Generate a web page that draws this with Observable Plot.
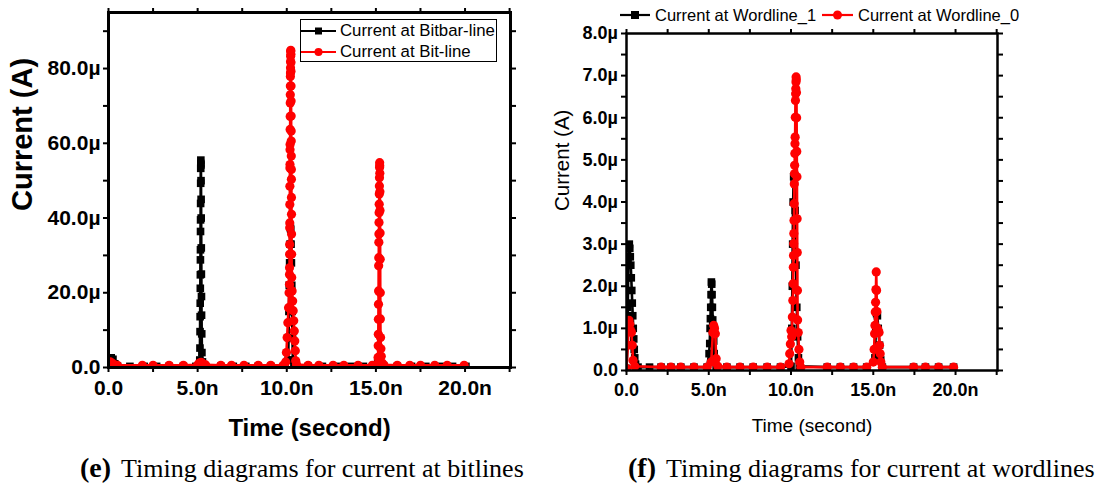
<!DOCTYPE html>
<html><head><meta charset="utf-8">
<script src="https://cdn.jsdelivr.net/npm/d3@7"></script>
<script src="https://cdn.jsdelivr.net/npm/@observablehq/plot@0.6"></script>
<style>
body{margin:0;background:#fff;}
#wrap{position:relative;width:1102px;height:485px;overflow:hidden;background:#fff;font-family:"Liberation Sans",Arial,sans-serif;}
.panel{position:absolute;top:0;}
.cap{position:absolute;font-family:"Liberation Serif","Times New Roman",serif;font-size:26px;white-space:nowrap;line-height:26px;}
.cap b{font-size:28px;margin-right:10px;}
.item{position:absolute;height:20px;display:flex;align-items:center;white-space:nowrap;color:#000;}
.item svg{display:block;}
#legL{position:absolute;left:300px;top:19px;width:195px;height:41px;border:1.5px solid #000;}
</style></head><body><div id="wrap"></div>
<script>
// ---------- data (time in ns, current in µA) ----------
const xTicks = [0, 2.5, 5, 7.5, 10, 12.5, 15, 17.5, 20, 22.5];
const xLabelTicks = [0, 5, 10, 15, 20];
const yTicksL = [0, 10, 20, 30, 40, 50, 60, 70, 80, 90];
const yLabelTicksL = [0, 20, 40, 60, 80];
const yTicksR = [0, 0.5, 1, 1.5, 2, 2.5, 3, 3.5, 4, 4.5, 5, 5.5, 6, 6.5, 7, 7.5, 8];
const yLabelTicksR = [0, 1, 2, 3, 4, 5, 6, 7, 8];

const namesL = ["Current at Bitbar-line", "Current at Bit-line"];
const namesR = ["Current at Wordline_1", "Current at Wordline_0"];
const colors = ["#000000", "#ff0000"];
const symbols = ["square", "circle"];

// Left: bitbar-line (black)
const tBitbar = [0.00,0.08,0.15,0.25,0.35,0.5,1.2,2.0,2.7,3.4,4.2,4.9,
  5.10,5.12,5.13,5.135,5.14,5.145,5.15,5.153,5.156,5.159,5.162,5.165,5.168,5.171,5.174,5.177,5.18,
  5.185,5.19,5.195,5.20,5.205,5.21,5.215,5.22,5.23,5.24,5.27,5.4,
  6.3,7.0,7.7,8.4,9.1,9.9,
  10.08,10.10,10.12,10.14,10.16,10.18,10.20,10.22,10.24,10.26,10.28,10.30,10.32,10.34,10.4,
  11.2,12.0,12.8,13.6,14.3,15.0,15.1,15.2,15.3,15.45,16.2,17.0,17.8,18.6,19.3,20.05];
const iBitbar = [0.3,2.4,2.6,2.2,1.0,0.4,0.3,0.3,0.3,0.3,0.3,0.3,
  0.8,2.0,5.2,9.6,13.6,17.2,21.2,24.8,28.8,31.5,36.4,39.5,43.9,49.3,53.3,54.6,55.5,
  54.2,50.0,45.0,40.0,32.0,25.0,19.0,14.0,9.0,4.0,1.5,0.4,
  0.3,0.3,0.3,0.3,0.3,0.3,
  2.0,8.0,15.0,22.0,28.0,33.0,37.4,37.0,33.0,28.0,22.0,15.0,8.0,2.0,0.4,
  0.3,0.3,0.3,0.3,0.3,0.3,1.2,1.5,0.8,0.3,0.3,0.3,0.3,0.3,0.3,0.3];

// Left: bit-line (red)
const tBitline = [0.0,0.1,0.2,0.35,0.5,1.9,2.5,3.4,4.2,5.0,5.1,5.2,5.3,5.45,6.3,6.9,7.6,8.4,9.1,9.8,
  9.94,9.98,10.02,10.06,10.10,10.13,
  10.150,10.153,10.156,10.159,10.162,10.165,10.168,10.171,10.174,10.177,10.180,10.183,10.186,10.189,10.192,10.195,10.198,10.201,10.204,10.207,10.210,10.213,10.216,10.219,
  10.225,
  10.230,10.233,10.236,10.239,10.242,10.245,10.248,10.251,10.254,10.257,10.260,10.263,10.266,10.269,10.272,10.275,
  10.30,10.33,10.36,10.39,10.42,10.45,10.48,10.50,10.55,
  11.2,11.8,12.6,13.2,14.0,14.8,
  15.10,15.12,15.13,15.135,15.14,15.145,15.15,15.155,15.16,15.165,15.17,15.175,15.18,15.185,15.19,15.195,15.20,15.205,15.21,
  15.215,15.22,15.225,15.23,15.235,15.24,15.245,15.25,15.26,15.28,15.30,15.35,15.45,
  16.2,16.9,17.5,18.3,19.0,19.95];
const iBitline = [0.4,1.5,1.2,0.7,0.6,0.6,0.6,0.6,0.6,0.7,1.2,1.4,1.0,0.7,0.6,0.6,0.6,0.6,0.6,0.6,
  1.5,4.0,8.0,12.0,16.0,20.0,
  22.2,24.9,26.7,30.3,32.9,37.4,38.7,43.6,48.5,53.4,54.3,58.3,59.7,63.7,67.2,70.8,73.0,75.3,77.9,78.8,80.2,81.9,83.3,84.6,
  84.9,
  83.8,81.6,79.3,75.3,71.3,67.3,63.3,60.6,56.6,53.0,50.4,45.5,41.0,35.7,30.3,24.1,
  20.5,17.8,15.2,12.5,9.8,7.1,4.5,1.8,0.8,
  0.6,0.6,0.6,0.6,0.6,0.6,
  1.0,2.7,5.8,8.9,12.9,16.9,20.5,27.2,29.4,33.5,35.7,38.8,41.4,43.7,46.4,48.6,50.8,53.5,54.8,
  54.0,52.0,47.0,42.0,36.0,29.0,20.0,13.0,8.0,5.0,3.0,1.2,0.7,
  0.6,0.6,0.6,0.6,0.6,0.6];

// Right: wordline_1 (black)
const tWord1 = [0.0,0.05,0.07,0.08,0.1,0.12,0.14,0.17,0.2,0.23,0.26,0.29,0.32,0.35,0.38,0.41,0.44,0.47,0.5,0.55,0.7,1.4,2.1,2.7,3.3,4.1,4.9,
  5.02,5.06,5.08,5.10,5.12,5.14,5.16,5.18,5.20,5.22,5.24,5.27,5.30,5.33,5.37,5.45,6.1,6.9,7.7,8.55,9.36,
  10.0,10.05,10.08,10.10,10.13,10.16,10.20,10.25,10.30,10.35,10.40,10.45,10.5,12.2,13.0,13.8,14.6,
  15.1,15.15,15.2,15.25,15.3,15.38,15.45,15.55,17.45,18.17,18.97,19.88];
const iWord1 = [0.05,0.6,1.1,1.5,2.2,2.7,2.95,3.0,2.9,2.7,2.5,2.2,1.9,1.6,1.3,1.0,0.75,0.5,0.3,0.15,0.08,0.08,0.08,0.08,0.08,0.08,0.08,
  0.4,0.64,1.0,1.23,1.5,1.8,2.1,2.05,1.8,1.5,1.2,1.0,0.7,0.4,0.2,0.08,0.08,0.08,0.08,0.08,0.08,
  0.1,1.0,2.0,3.0,4.0,4.6,4.5,3.8,2.5,1.5,0.8,0.3,0.1,0.08,0.08,0.08,0.08,
  0.3,0.9,1.35,1.3,1.0,0.6,0.25,0.08,0.08,0.08,0.08,0.08];

// Right: wordline_0 (red)
const tWord0 = [0.0,0.08,0.12,0.15,0.2,0.25,0.3,0.35,0.4,0.5,2.1,2.7,3.3,4.1,4.9,
  5.15,5.25,5.30,5.35,5.40,5.45,5.55,6.1,6.9,7.7,8.55,9.36,
  9.88,9.92,9.96,10.0,10.04,10.08,10.11,10.13,10.14,10.15,10.16,10.17,10.18,10.19,10.20,10.21,10.22,10.23,10.24,10.25,10.26,10.27,10.28,10.29,10.30,10.31,10.32,10.33,10.34,10.35,10.36,10.37,10.38,10.39,10.40,10.44,10.48,10.53,10.6,
  12.2,13.0,13.8,14.6,
  15.0,15.05,15.08,15.10,15.12,15.14,15.16,15.18,15.20,15.22,15.25,15.30,15.35,15.38,15.42,15.46,15.55,
  17.45,18.17,18.97,19.88];
const iWord0 = [0.05,0.6,1.0,1.19,1.1,0.95,0.9,0.6,0.24,0.1,0.08,0.08,0.08,0.08,0.08,
  0.2,0.9,1.07,1.0,0.87,0.28,0.1,0.08,0.08,0.08,0.08,0.08,
  0.16,0.4,0.63,0.95,0.8,1.27,1.66,2.06,2.45,2.73,3.01,3.25,3.56,3.96,4.43,4.67,4.87,5.15,5.38,5.54,6.01,6.41,6.57,6.69,6.85,6.97,6.9,6.6,6.0,5.2,4.6,3.6,2.8,1.9,1.2,0.9,0.5,0.2,0.08,
  0.08,0.08,0.08,0.08,
  0.2,0.5,0.87,1.07,1.39,1.62,1.92,2.34,1.9,1.4,1.0,0.95,0.9,0.6,0.4,0.2,0.08,
  0.08,0.08,0.08,0.08];

// ---------- drawing ----------
const rows = (t, v) => t.map((d, i) => ({t: d, v: v[i]}));
const fmtX = d => d === 0 ? "0.0" : d.toFixed(1) + "n";
const fmtY = d => d === 0 ? "0.0" : d.toFixed(1) + "\u00b5";

function panel(o) {
  const marks = [];
  o.series.forEach((s, k) => {
    const data = rows(s.t, s.v);
    marks.push(Plot.line(data, {x: "t", y: "v", stroke: colors[k], strokeWidth: o.lw, clip: true}));
    marks.push(Plot.dot(data, {x: "t", y: "v", fill: colors[k], stroke: "none", symbol: symbols[k], r: o.r[k], clip: true}));
  });
  const tk = {stroke: "#000", strokeWidth: 2, tickSize: 5, label: null};
  marks.push(
    Plot.axisX({...tk, anchor: "bottom", ticks: xTicks, tickPadding: o.xPad, tickFormat: d => xLabelTicks.includes(d) ? fmtX(d) : "", fontSize: o.fs, fontWeight: "bold"}),
    Plot.axisX({...tk, anchor: "top", ticks: xTicks, tickFormat: () => ""}),
    Plot.axisY({...tk, anchor: "left", ticks: o.yTicks, tickPadding: o.yPad, tickFormat: d => o.yLabelTicks.includes(d) ? fmtY(d) : "", fontSize: o.fs, fontWeight: "bold"}),
    Plot.axisY({...tk, anchor: "right", ticks: o.yTicks, tickFormat: () => ""}),
    Plot.frame({stroke: "#000", strokeWidth: o.fw}),
    Plot.text([o.yTitle], {text: d => d, frameAnchor: "left", rotate: -90, dx: o.yTdx, dy: o.yTdy, fontSize: o.yTfs, fontWeight: o.tw}),
    Plot.text([o.xTitle], {text: d => d, frameAnchor: "bottom", dx: o.xTdx, dy: o.xTdy, fontSize: o.xTfs, fontWeight: o.tw})
  );
  return Plot.plot({
    width: o.width, height: o.height,
    marginLeft: o.ml, marginRight: o.mr, marginTop: o.mt, marginBottom: o.mb,
    x: {domain: [0, 22.55]}, y: {domain: o.yDomain},
    style: {fontFamily: "'Liberation Sans', Arial, sans-serif", background: "transparent", overflow: "visible", color: "#000"},
    marks
  });
}

const wrap = document.getElementById("wrap");

const left = panel({
  width: 551, height: 440, ml: 108, mr: 41, mt: 12, mb: 73,
  yDomain: [0, 95], yTicks: yTicksL, yLabelTicks: yLabelTicksL,
  series: [{t: tBitbar, v: iBitbar}, {t: tBitline, v: iBitline}],
  lw: 2.6, r: [4.3, 4.6], fs: 21, xPad: 8, yPad: 3, fw: 3,
  yTitle: "Current (A)", xTitle: "Time (second)", tw: "bold",
  yTfs: 29, yTdx: -86, yTdy: 21, xTfs: 24, xTdx: 0, xTdy: 68
});
left.classList.add("panel"); left.style.left = "0px";
wrap.appendChild(left);

const right = panel({
  width: 562, height: 440, ml: 86, mr: 105, mt: 33, mb: 70,
  yDomain: [0, 8], yTicks: yTicksR, yLabelTicks: yLabelTicksR,
  series: [{t: tWord1, v: iWord1}, {t: tWord0, v: iWord0}],
  lw: 2.6, r: [4.3, 4.6], fs: 18, xPad: 8, yPad: 3.5, fw: 2.5,
  yTitle: "Current (A)", xTitle: "Time (second)", tw: "normal",
  yTfs: 20.5, yTdx: -64, yTdy: 9, xTfs: 19, xTdx: 0, xTdy: 61
});
right.classList.add("panel"); right.style.left = "540px";
wrap.appendChild(right);

// ---------- legends ----------
function swatch(k, w, r) {
  const c = colors[k];
  const m = symbols[k] === "square"
    ? `<rect x="${w/2 - r}" y="${10 - r}" width="${2*r}" height="${2*r}" fill="${c}"/>`
    : `<circle cx="${w/2}" cy="10" r="${r}" fill="${c}"/>`;
  return `<svg width="${w}" height="20"><line x1="0" x2="${w}" y1="10" y2="10" stroke="${c}" stroke-width="2.2"/>${m}</svg>`;
}
const legL = document.createElement("div");
legL.id = "legL";
wrap.appendChild(legL);
[[301, 21], [301, 42]].forEach(([x, y], k) => {
  const it = document.createElement("div");
  it.className = "item";
  it.style.left = x + "px"; it.style.top = y + "px"; it.style.fontSize = "16.8px";
  it.innerHTML = swatch(k, 35, k ? 4 : 3.5) + `<span style="margin-left:4px">${namesL[k]}</span>`;
  wrap.appendChild(it);
});
[[620, 5, 30], [822, 5, 31]].forEach(([x, y, w], k) => {
  const it = document.createElement("div");
  it.className = "item";
  it.style.left = x + "px"; it.style.top = y + "px"; it.style.fontSize = "16.5px";
  it.innerHTML = swatch(k, w, k ? 4.5 : 4) + `<span style="margin-left:5px">${namesR[k]}</span>`;
  wrap.appendChild(it);
});

// ---------- captions ----------
const captions = [["(e)", "Timing diagrams for current at bitlines", 80], ["(f)", "Timing diagrams for current at wordlines", 628]];
captions.forEach(([a, b, x]) => {
  const c = document.createElement("div");
  c.className = "cap";
  c.style.left = x + "px"; c.style.top = "455px";
  c.innerHTML = `<b>${a}</b>${b}`;
  wrap.appendChild(c);
});
</script></body></html>
